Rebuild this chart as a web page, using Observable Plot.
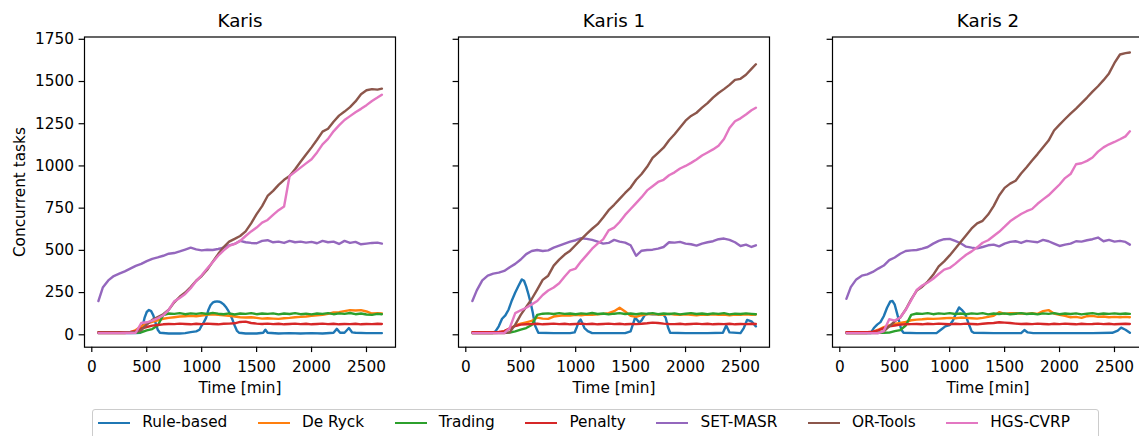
<!DOCTYPE html>
<html>
<head>
<meta charset="utf-8">
<script src="https://cdn.jsdelivr.net/npm/d3@7"></script>
<script src="https://cdn.jsdelivr.net/npm/@observablehq/plot@0.6"></script>
<style>
html, body { margin: 0; padding: 0; background: #fff; overflow: hidden; }
#chart { position: relative; width: 1139px; height: 436px; overflow: hidden; font-family: "DejaVu Sans", sans-serif; }
.panel { position: absolute; top: 0; }
#legend { position: absolute; left: 92.3px; top: 409px; width: 1006.7px; height: 32px; box-sizing: border-box;
  border: 1.2px solid #cccccc; border-radius: 3px; display: flex; align-items: flex-start;
  padding: 3.9px 0 0 5px; font-size: 15.3px; line-height: 17.8px; color: #000; }
.item { display: flex; align-items: center; height: 17.8px; margin-right: 30.6px; white-space: nowrap; }
.sw { width: 32px; height: 2.3px; margin-right: 12px; }
</style>
</head>
<body>
<div id="chart"></div>
<script>
const methods = ["Rule-based", "De Ryck", "Trading", "Penalty", "SET-MASR", "OR-Tools", "HGS-CVRP"];
const colors = ["#1f77b4", "#ff7f0e", "#2ca02c", "#d62728", "#9467bd", "#8c564b", "#e377c2"];
const panelTitles = ["Karis", "Karis 1", "Karis 2"];
const xTicks = [0, 500, 1000, 1500, 2000, 2500];
const yTicks = [0, 250, 500, 750, 1000, 1250, 1500, 1750];

// shared time grid [min]
const times = [60,100,150,200,250,300,350,400,450,500,
  550,600,650,700,750,800,850,900,950,1000,
  1050,1100,1150,1200,1250,1300,1350,1400,1450,1500,
  1550,1600,1650,1700,1750,1800,1850,1900,1950,2000,
  2050,2100,2150,2200,2250,2300,2350,2400,2450,2500,
  2550,2600,2640];

// ---- Karis ----
const karisRuleTimes = [60,400,440,460,480,500,520,540,560,580,
  600,620,700,800,850,900,950,980,1000,1020,
  1040,1060,1080,1100,1120,1140,1160,1180,1200,1220,
  1240,1260,1280,1300,1320,1340,1400,1500,1560,1580,
  1600,1700,1800,1900,2000,2100,2200,2230,2260,2300,
  2340,2370,2400,2500,2600,2640];
const karisRule = [10,10,12,45,100,135,147,140,115,70,
  30,12,8,8,10,16,20,30,55,75,
  100,145,175,190,196,198,196,190,180,165,
  145,120,90,55,25,12,8,8,12,30,
  12,8,10,8,10,8,12,35,12,12,
  40,14,12,10,10,10];
const karisDeRyck = [10,10,10,10,10,11,14,28,50,66,
  76,86,95,100,104,108,110,112,110,114,
  118,122,118,116,112,108,104,102,104,100,
  96,98,96,94,98,100,104,106,108,112,
  116,118,124,132,134,140,146,144,146,138,
  126,128,126];
const karisTrading = [12,12,12,12,12,12,12,12,15,26,
  34,55,116,126,124,128,122,127,124,128,
  123,130,125,122,127,120,126,124,128,122,
  126,124,127,121,126,123,128,122,125,121,
  126,124,128,122,127,124,129,122,126,120,
  118,124,122];
const karisPenalty = [16,16,16,16,16,16,17,22,36,46,
  54,58,62,64,63,66,64,62,65,63,
  66,64,62,65,66,68,76,78,70,66,
  64,66,63,65,62,64,66,63,65,62,
  64,66,63,65,62,64,63,65,62,64,
  63,65,64];
const karisSetMasr = [200,280,322,348,362,376,392,408,420,436,
  450,458,468,480,484,494,505,516,506,500,
  504,502,508,516,530,538,556,548,544,542,
  556,560,548,552,544,556,548,552,546,550,
  542,556,548,552,538,556,544,550,536,540,
  544,546,540];
const karisOrTools = [12,12,12,13,12,13,14,15,28,60,
  88,105,122,148,192,225,250,283,320,348,
  385,432,478,520,552,568,585,612,660,715,
  762,822,852,888,918,940,980,1025,1068,1110,
  1155,1203,1220,1262,1298,1322,1348,1382,1425,1448,
  1455,1452,1458];
const karisHgs = [10,10,10,10,10,11,11,12,70,74,
  84,98,115,148,198,218,242,276,318,352,
  392,430,468,500,526,538,556,585,612,635,
  664,680,710,738,760,940,965,990,1015,1040,
  1080,1128,1160,1205,1240,1272,1295,1318,1338,1360,
  1385,1405,1422];

// ---- Karis 1 ----
const karis1RuleTimes = [60,240,270,300,330,360,390,420,450,480,
  510,530,550,570,590,610,630,660,800,950,
  990,1010,1030,1045,1060,1080,1110,1150,1300,1450,
  1500,1520,1540,1560,1580,1600,1630,1660,1700,1750,
  1800,1820,1840,1860,2000,2200,2340,2370,2400,2500,
  2530,2560,2600,2640];
const karis1Rule = [10,10,20,50,95,115,150,205,250,290,
  328,320,285,240,190,130,55,12,10,10,
  14,45,80,90,70,40,22,10,10,10,
  20,60,100,88,72,85,118,125,122,122,
  118,100,45,12,10,10,12,55,14,10,
  40,88,80,50];
const karis1DeRyck = [10,10,10,10,10,12,20,36,55,66,
  74,82,102,96,94,108,112,116,114,118,
  116,120,118,122,124,128,140,160,138,112,
  106,116,122,124,120,118,124,120,118,122,
  118,116,120,118,122,118,120,116,120,118,
  122,118,120];
const karis1Trading = [12,12,12,12,12,12,12,13,20,30,
  40,58,118,125,127,123,128,124,126,122,
  127,124,129,123,126,121,125,128,123,126,
  122,127,124,128,122,126,123,127,121,125,
  128,123,126,122,127,124,128,121,125,123,
  127,124,122];
const karis1Penalty = [16,16,16,16,16,17,22,38,52,60,
  62,63,65,62,64,66,63,65,62,64,
  66,63,65,62,64,66,63,65,62,64,
  63,65,68,72,70,66,64,63,65,62,
  64,66,63,65,62,64,63,65,62,64,
  63,65,64];
const karis1SetMasr = [200,263,322,350,362,368,378,400,420,446,
  478,496,502,496,500,516,528,540,552,560,
  572,568,562,552,540,544,562,552,546,530,
  468,498,502,504,510,520,548,546,550,540,
  536,528,540,548,554,566,570,562,548,526,
  534,520,530];
const karis1OrTools = [10,10,10,10,10,10,11,14,60,118,
  165,212,268,325,350,410,445,475,498,532,
  565,598,628,655,695,738,770,805,840,872,
  918,952,995,1048,1078,1108,1152,1188,1228,1268,
  1296,1315,1345,1372,1405,1432,1455,1480,1510,1516,
  1540,1575,1602];
const karis1Hgs = [10,10,10,10,10,10,10,40,128,145,
  160,180,200,236,262,280,305,345,382,392,
  435,472,510,540,565,618,635,668,710,745,
  780,815,855,880,905,918,945,962,985,1000,
  1018,1038,1062,1080,1098,1120,1160,1225,1265,1282,
  1305,1330,1345];

// ---- Karis 2 ----
const karis2RuleTimes = [60,280,310,340,370,400,430,460,480,500,
  520,540,560,580,700,880,920,960,1000,1030,
  1060,1085,1110,1140,1170,1200,1220,1400,1650,1680,
  1710,1760,2000,2300,2480,2530,2560,2600,2640];
const karis2Rule = [10,10,40,60,75,110,160,198,200,178,
  130,80,30,12,10,10,30,50,58,85,
  130,162,148,125,70,20,12,10,10,28,
  14,10,10,10,12,25,42,30,12];
const karis2DeRyck = [10,10,10,10,11,16,30,45,56,65,
  70,76,86,90,92,95,94,96,98,100,
  98,102,100,98,96,100,106,112,134,124,
  128,128,126,124,128,124,140,146,126,118,
  112,104,106,100,110,112,106,108,104,106,
  104,106,104];
const karis2Trading = [12,12,12,12,12,12,12,12,13,22,
  28,55,118,126,124,128,122,127,124,128,
  123,126,122,127,124,128,121,126,123,127,
  122,125,128,123,126,121,127,124,128,122,
  126,123,127,121,125,128,122,126,124,127,
  123,126,124];
const karis2Penalty = [16,16,16,16,16,18,26,40,50,55,
  60,62,63,64,62,65,63,66,64,62,
  65,63,66,64,62,65,68,70,74,72,
  70,66,64,65,63,66,64,62,65,63,
  66,64,62,65,63,64,66,63,65,62,
  64,65,64];
const karis2SetMasr = [213,282,328,350,358,372,392,410,442,458,
  480,496,500,502,510,520,540,556,566,568,
  556,542,522,516,512,520,530,534,524,540,
  550,554,544,556,552,548,562,554,540,526,
  534,540,554,552,560,566,576,554,562,552,
  556,550,534];
const karis2OrTools = [10,10,10,10,10,10,11,20,50,80,
  102,150,210,262,285,315,355,405,435,470,
  510,550,590,630,660,675,712,762,825,870,
  895,912,955,992,1032,1070,1110,1150,1210,1245,
  1278,1310,1340,1372,1405,1440,1472,1508,1548,1610,
  1660,1668,1672];
const karis2Hgs = [10,10,10,10,10,10,10,22,92,84,
  102,148,205,265,292,310,332,360,386,396,
  420,448,474,494,518,545,560,585,610,640,
  672,694,715,732,745,776,802,826,858,890,
  928,952,1010,1016,1030,1050,1085,1110,1128,1142,
  1158,1175,1205];

const panels = [
  {title: panelTitles[0], ruleTimes: karisRuleTimes, series: [karisRule, karisDeRyck, karisTrading, karisPenalty, karisSetMasr, karisOrTools, karisHgs]},
  {title: panelTitles[1], ruleTimes: karis1RuleTimes, series: [karis1Rule, karis1DeRyck, karis1Trading, karis1Penalty, karis1SetMasr, karis1OrTools, karis1Hgs]},
  {title: panelTitles[2], ruleTimes: karis2RuleTimes, series: [karis2Rule, karis2DeRyck, karis2Trading, karis2Penalty, karis2SetMasr, karis2OrTools, karis2Hgs]}
];

const chart = document.getElementById("chart");
const frameW = 311;
const frameLefts = [84, 458, 832];
const H = 400, mTop = 36.5, mBottom = H - 346.7;

panels.forEach((p, i) => {
  const first = i === 0;
  const mLeft = first ? 84 : 30;
  const mRight = 4;
  const marks = [];
  p.series.forEach((vals, k) => {
    const xs = k === 0 ? p.ruleTimes : times;
    marks.push(Plot.lineY(vals, {x: xs, stroke: colors[k], strokeWidth: 2.4}));
  });
  marks.push(Plot.frame({stroke: "#000", strokeWidth: 1.2}));
  marks.push(Plot.axisX({ticks: xTicks, tickFormat: "d", tickSize: 5.4, tickPadding: 8.5, label: null, strokeWidth: 1.2}));
  if (first) {
    marks.push(Plot.axisY({ticks: yTicks, tickFormat: "d", tickSize: 5.4, tickPadding: 5.1, label: null, strokeWidth: 1.2}));
    marks.push(Plot.text(["Concurrent tasks"], {frameAnchor: "left", dx: -60, rotate: -90, textAnchor: "middle", lineAnchor: "bottom", fontSize: 15.3}));
  } else {
    marks.push(Plot.axisY({ticks: yTicks, tickSize: 5.4, tickFormat: () => "", label: null, strokeWidth: 1.2}));
  }
  marks.push(Plot.text([p.title], {frameAnchor: "top", dy: -9.8, textAnchor: "middle", lineAnchor: "bottom", fontSize: 18.3}));
  marks.push(Plot.text(["Time [min]"], {frameAnchor: "bottom", dy: 45.3, textAnchor: "middle", lineAnchor: "bottom", fontSize: 15.3}));

  const svg = Plot.plot({
    width: mLeft + frameW + mRight,
    height: H,
    marginLeft: mLeft, marginRight: mRight, marginTop: mTop, marginBottom: mBottom,
    x: {domain: [-66.4, 2764], label: null},
    y: {domain: [-73.5, 1763.6], label: null},
    style: {fontFamily: "DejaVu Sans", fontSize: "15.3px", color: "#000", background: "transparent", overflow: "visible"},
    marks
  });
  svg.classList.add("panel");
  svg.style.left = (frameLefts[i] - mLeft) + "px";
  chart.appendChild(svg);
});

// legend
const legend = document.createElement("div");
legend.id = "legend";
methods.forEach((m, k) => {
  const item = document.createElement("div");
  item.className = "item";
  const sw = document.createElement("span");
  sw.className = "sw";
  sw.style.background = colors[k];
  const tx = document.createElement("span");
  tx.textContent = m;
  item.appendChild(sw);
  item.appendChild(tx);
  legend.appendChild(item);
});
chart.appendChild(legend);
</script>
</body>
</html>
